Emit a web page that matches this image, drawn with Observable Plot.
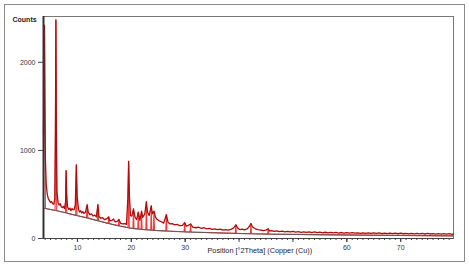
<!DOCTYPE html>
<html><head><meta charset="utf-8">
<script src="https://cdn.jsdelivr.net/npm/d3@7"></script>
<script src="https://cdn.jsdelivr.net/npm/@observablehq/plot@0.6"></script>
<style>
body{margin:0;background:#fff;}
#wrap{position:relative;width:469px;height:266px;}
#border{position:absolute;left:4px;top:4px;width:461px;height:258px;box-sizing:border-box;border:1.5px solid #8a8a8a;}
#wrap svg{position:absolute;left:0;top:0;}
</style></head>
<body><div id="wrap"><div id="border"></div></div>
<script>
const xMajor = [10, 20, 30, 40, 50, 60, 70];
const xTickLabels = [10, 20, 30, 60, 70];
const yTicks = [0, 1000, 2000];

const bgTheta = [3.7, 5, 6, 8, 10, 12, 14, 16, 18, 20, 22, 24, 26, 28, 30, 35, 40, 45, 50, 55, 60, 65, 70, 75, 79.8];
const bgCounts = [345, 330, 318, 290, 260, 228, 197, 166, 138, 117, 103, 93, 86, 80, 75, 65, 57, 51, 46, 42, 39, 36, 34, 32, 30];

const obsTheta = [3.70, 3.80, 3.88, 3.95, 4.05, 4.20, 4.40, 4.60, 4.80, 5.00, 5.20, 5.40, 5.60, 5.80, 5.92, 6.00, 6.08, 6.20, 6.40, 6.60, 6.80, 7.00, 7.20, 7.40, 7.60, 7.80, 7.90, 8.00, 8.15, 8.40, 8.60, 8.80, 9.00, 9.20, 9.40, 9.60, 9.80, 9.95, 10.20, 10.40, 10.60, 10.80, 11.00, 11.20, 11.50, 11.80, 12.00, 12.30, 12.60, 12.90, 13.20, 13.50, 13.80, 14.00, 14.30, 14.60, 15.00, 15.40, 15.80, 16.00, 16.40, 16.70, 17.00, 17.40, 17.70, 18.00, 18.40, 18.80, 19.10, 19.35, 19.50, 19.65, 19.85,
  20.10, 20.40, 20.70, 21.00, 21.30, 21.60, 21.90, 22.10, 22.50, 22.80, 23.00, 23.30, 23.70, 23.90, 24.20, 24.50, 24.80, 25.20, 25.60, 26.00, 26.50, 26.80, 27.20, 27.60, 28.00, 28.50, 29.00, 29.50, 29.90, 30.20, 30.60, 31.00, 31.40, 32.00, 32.50, 33.00, 33.50, 34.00, 34.50, 35.00, 35.50, 36.00, 36.50, 37.00, 37.50, 38.00, 38.50, 39.00, 39.40, 39.80, 40.20, 40.60, 41.00, 41.50, 42.00, 42.20, 42.50, 43.00, 43.50, 44.00, 44.50, 45.00, 45.40, 45.70, 46.00, 46.50, 47.00, 47.50, 48.00, 48.50, 49.00, 49.50, 50.00,
  50.5, 51, 51.5, 52, 52.5, 53, 53.5, 54, 54.5, 55, 55.5, 56, 56.5, 57, 57.5, 58, 58.5, 59, 59.5, 60, 60.5, 61, 61.5, 62, 62.5, 63, 63.5, 64, 64.5, 65, 65.5, 66, 66.5, 67, 67.5, 68, 68.5, 69, 69.5, 70, 70.5, 71, 71.5, 72, 72.5, 73, 73.5, 74, 74.5, 75, 75.5, 76, 76.5, 77, 77.5, 78, 78.5, 79, 79.5, 79.8];
const obsCounts = [1180, 1900, 2420, 1600, 900, 620, 500, 450, 430, 410, 420, 395, 390, 450, 1200, 2480, 1300, 520, 410, 380, 395, 360, 350, 365, 340, 420, 770, 520, 360, 330, 345, 315, 340, 325, 330, 380, 835, 470, 330, 300, 315, 290, 305, 285, 300, 383, 300, 270, 280, 255, 265, 245, 383, 250, 232, 238, 215, 222, 245, 200, 205, 222, 188, 195, 215, 172, 165, 170, 160, 450, 875, 480, 260,
  255, 335, 240, 215, 300, 205, 310, 240, 280, 417, 300, 260, 370, 280, 310, 240, 215, 200, 190, 175, 270, 185, 165, 170, 155, 160, 145, 150, 180, 140, 150, 165, 130, 122, 128, 115, 122, 110, 116, 104, 110, 100, 106, 96, 102, 95, 104, 120, 155, 115, 100, 106, 98, 110, 145, 170, 130, 110, 100, 96, 90, 95, 110, 85, 90, 80, 87, 78, 84, 76, 82, 74, 80,
  72, 78, 70, 76, 69, 75, 67, 74, 66, 72, 65, 71, 64, 70, 63, 69, 62, 68, 61, 67, 60, 66, 60, 65, 59, 65, 58, 64, 58, 63, 57, 63, 56, 62, 56, 61, 55, 61, 54, 60, 54, 59, 53, 59, 53, 58, 52, 58, 51, 57, 51, 56, 50, 56, 50, 55, 49, 55, 48, 52];

const calcTheta = [3.70, 3.88, 4.05, 5.85, 6.00, 6.15, 7.78, 7.90, 8.02, 9.68, 9.80, 9.92, 11.68, 11.80, 11.92, 13.68, 13.80, 13.92, 15.70, 15.80, 15.90, 17.60, 17.70, 17.80, 19.38, 19.50, 19.62, 20.30, 20.40, 20.50, 21.20, 21.30, 21.40, 21.80, 21.90, 22.00, 22.70, 22.80, 22.90, 23.60, 23.70, 23.80, 24.10, 24.20, 24.30, 26.40, 26.50, 26.60, 29.80, 29.90, 30.00, 30.90, 31.00, 31.10, 39.30, 39.40, 39.50, 42.10, 42.20, 42.30, 45.30, 45.40, 45.50, 79.8];
const calcCounts = [900, 2420, 340, 318, 2480, 316, 292, 770, 288, 262, 835, 258, 238, 383, 234, 205, 383, 202, 172, 245, 170, 146, 215, 144, 122, 875, 118, 113, 335, 112, 108, 300, 107, 105, 310, 104, 100, 417, 99, 96, 370, 95, 93, 310, 92, 86, 270, 85, 76, 180, 75, 73, 165, 73, 58, 155, 58, 54, 170, 54, 50, 110, 50, 30];

const zip = (xs, ys) => xs.map((t, i) => ({t, c: ys[i]}));
const bg = zip(bgTheta, bgCounts);
const obs = zip(obsTheta, obsCounts);
const calc = zip(calcTheta, calcCounts);

const chart = Plot.plot({
  width: 469, height: 266,
  marginLeft: 43, marginRight: 16, marginTop: 16, marginBottom: 28,
  x: {domain: [3.7, 79.8]},
  y: {domain: [0, 2520]},
  style: {fontFamily: "'Liberation Sans', Arial, sans-serif", fontSize: "7px", color: "#333", background: "transparent"},
  marks: [
    Plot.frame({stroke: "#777", strokeWidth: 1}),
    Plot.line(calc, {x: "t", y: "c", stroke: "#f23a3a", strokeWidth: 1.1}),
    Plot.line(bg, {x: "t", y: "c", stroke: "#5a5a5a", strokeWidth: 1, curve: "natural"}),
    Plot.line(obs, {x: "t", y: "c", stroke: "#b00c0c", strokeWidth: 1.3}),
    Plot.ruleY([0], {stroke: "#444", strokeWidth: 1}),
    Plot.ruleX([3.7], {stroke: "#333", strokeWidth: 2}),
    Plot.axisY({ticks: yTicks, tickSize: 5, tickPadding: 3, label: null, tickFormat: d => String(d), stroke: "#444"}),
    Plot.axisX({ticks: d3.range(4, 80, 1), tickSize: 2, tickFormat: () => "", label: null, stroke: "#444"}),
    Plot.axisX({ticks: xMajor, tickSize: 4, tickFormat: () => "", label: null, stroke: "#444"}),
    Plot.axisX({ticks: xTickLabels, tickSize: 4, tickPadding: 3, label: null, tickFormat: d => String(d), stroke: "#444"}),
    Plot.text(["Counts"], {frameAnchor: "top-left", dx: -31, dy: 1, textAnchor: "start", fontWeight: "bold", fontSize: 7, fill: "#222"}),
    Plot.text(["Position [°2Theta] (Copper (Cu))"], {frameAnchor: "bottom-left", dx: 164, dy: 14.6, textAnchor: "start", fontSize: 7.3, fill: "#222"})
  ]
});
document.getElementById("wrap").appendChild(chart);
</script>
</body></html>
